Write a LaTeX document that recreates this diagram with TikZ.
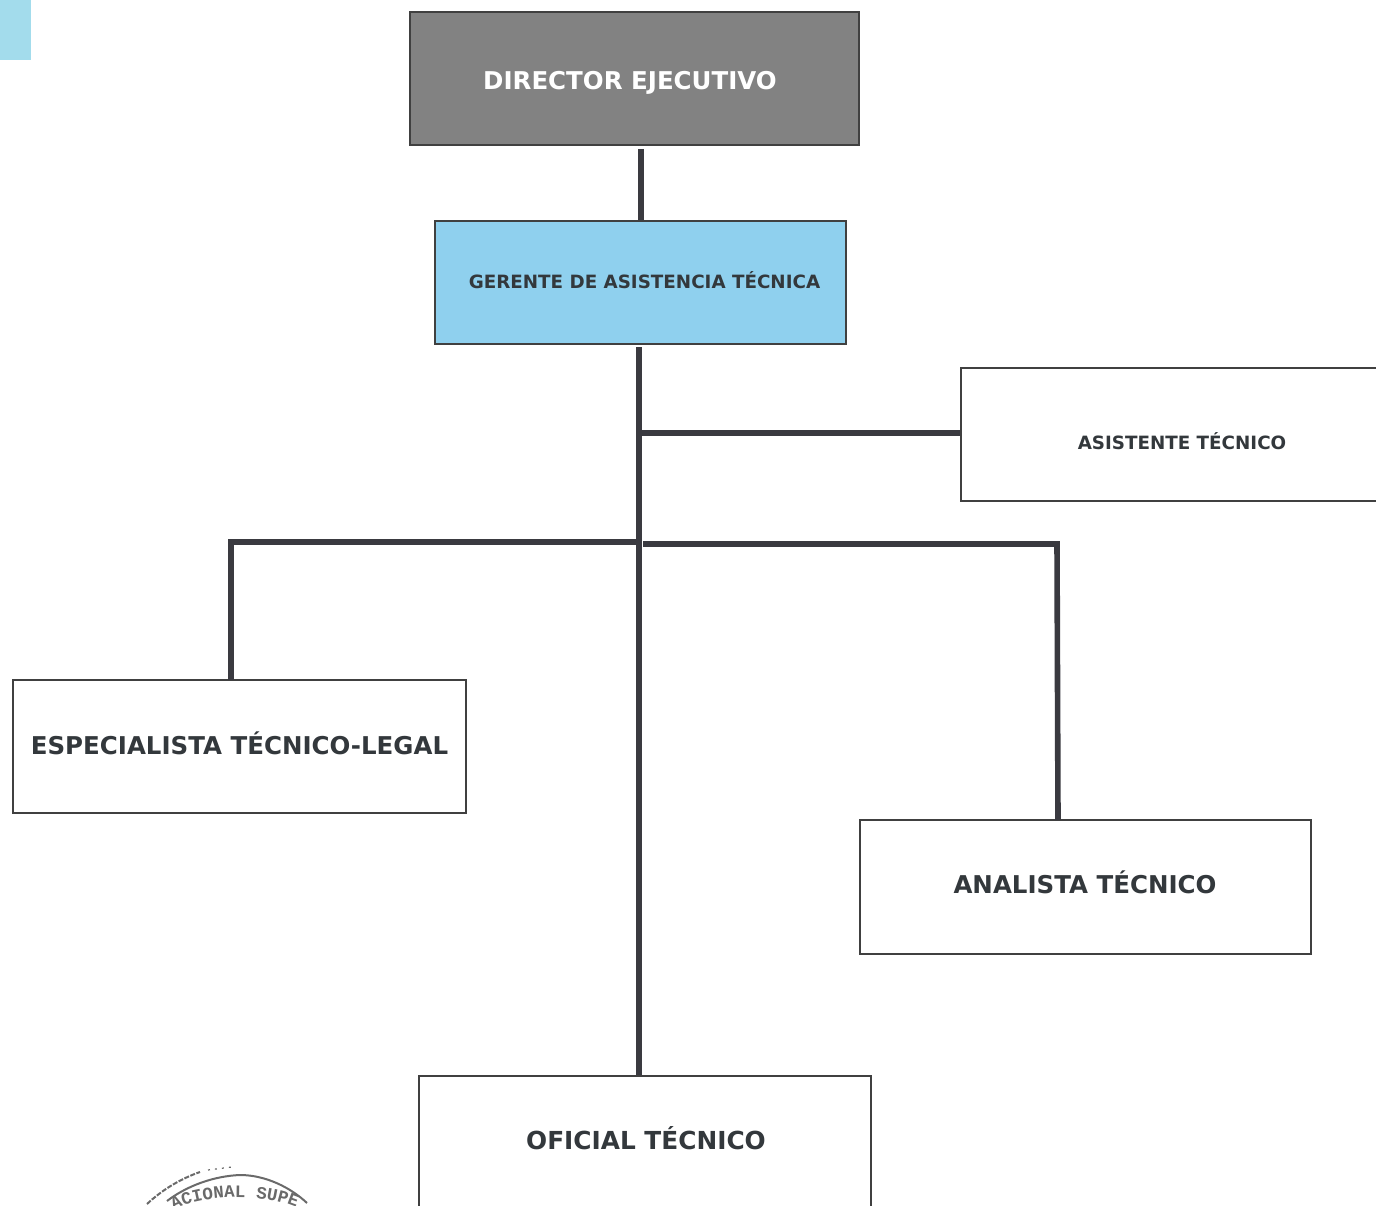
\documentclass[tikz,border=0pt]{standalone}
\usepackage{fontspec}
\setmainfont{DejaVu Sans}
\newfontfamily\stampfont{Liberation Mono}
\usetikzlibrary{decorations.text}
\definecolor{linecol}{HTML}{3A3A40}
\definecolor{boxedge}{HTML}{404040}
\definecolor{dirgray}{HTML}{828282}
\definecolor{gerblue}{HTML}{8FD0EE}
\definecolor{patch}{HTML}{A3DCEC}
\definecolor{txt}{HTML}{33383C}
\definecolor{stampcol}{HTML}{6A6A6A}
\tikzset{
  orgbox/.style={draw=boxedge,line width=1.9pt,fill=white,inner sep=0pt,anchor=north west},
  link/.style={draw=linecol,line width=5.6pt},
  lbl/.style={inner sep=0pt,font=\bfseries,text=txt,anchor=center},
  stampline/.style={draw=stampcol,line width=2pt}
}
\begin{document}
\begin{tikzpicture}[x=1pt,y=-1pt]
\useasboundingbox (0,0) rectangle (1376,1206);
\begin{scope}
\clip (0,0) rectangle (1376,1206);
\fill[patch] (0,0) rectangle (31,60);

% boxes
\node[orgbox,fill=dirgray,minimum width=449pt,minimum height=133pt] (dir) at (409.3,11.3) {};
\node[orgbox,fill=gerblue,minimum width=411pt,minimum height=123pt] (ger) at (434.3,220.3) {};
\node[orgbox,minimum width=440pt,minimum height=133pt] (asi) at (960.3,367.3) {};
\node[orgbox,minimum width=453pt,minimum height=133pt] (esp) at (12.3,679.3) {};
\node[orgbox,minimum width=451pt,minimum height=134pt] (ana) at (859.3,819.3) {};
\node[orgbox,minimum width=452pt,minimum height=180pt] (ofi) at (418.3,1075.3) {};

% junctions and free ends
\coordinate (dirfoot) at (641,149);
\coordinate (gertop) at (641,220);
\coordinate (gerfoot) at (639,347);
\coordinate (asijoin) at (639,433);
\coordinate (barjoin) at (637,542);
\coordinate (ofitop) at (639,1075);
\coordinate (espcorner) at (231,542);
\coordinate (espfoot) at (231,680);
\coordinate (anajoin) at (643,544);
\coordinate (anacorner) at (1057,544);
\coordinate (anafoot) at (1058,820);

% connectors
\draw[link] (dirfoot) -- (gertop);
\draw[link] (gerfoot) -- (ofitop);
\draw[link] (asijoin) -- (asi.west |- asijoin);
\draw[link] (barjoin) -- (espcorner) -- (espfoot);
\draw[link] (anajoin) -- (anacorner) -- (anafoot);

% labels
\node[lbl,text=white,font=\bfseries\fontsize{24.5}{27}\selectfont] (tdir) at (630,82.5) {DIRECTOR EJECUTIVO};
\node[lbl,font=\bfseries\fontsize{18.3}{22}\selectfont] (tger) at (644.5,280.5) {GERENTE DE ASISTENCIA TÉCNICA};
\node[lbl,font=\bfseries\fontsize{18.3}{21}\selectfont] (tasi) at (1182,441) {ASISTENTE TÉCNICO};
\node[lbl,font=\bfseries\fontsize{24.5}{27}\selectfont] (tesp) at (239.5,743) {ESPECIALISTA TÉCNICO-LEGAL};
\node[lbl,font=\bfseries\fontsize{24.5}{27}\selectfont] (tana) at (1085,882.5) {ANALISTA TÉCNICO};
\node[lbl,font=\bfseries\fontsize{24.8}{27}\selectfont] (tofi) at (646,1138.5) {OFICIAL TÉCNICO};

% stamp fragment
\draw[stampline,dash pattern=on 5pt off 1.5pt] (147,1204) .. controls (162,1190) and (180,1179) .. (200,1172);
\draw[stampline,line width=1.2pt,dash pattern=on 2pt off 5pt] (208,1170) -- (232,1167);
\draw[stampline] (167,1201) .. controls (188,1185) and (215,1176) .. (240,1175) .. controls (265,1175) and (290,1187) .. (307,1203);
\path[decorate,decoration={text along path,text align=center,
  text={|\stampfont\bfseries\fontsize{17.5}{20}\selectfont\color{stampcol}|ACIONAL SUPE}}]
  (165,1214) .. controls (200,1192) and (272,1192) .. (305,1212);
\end{scope}
\end{tikzpicture}
\end{document}
